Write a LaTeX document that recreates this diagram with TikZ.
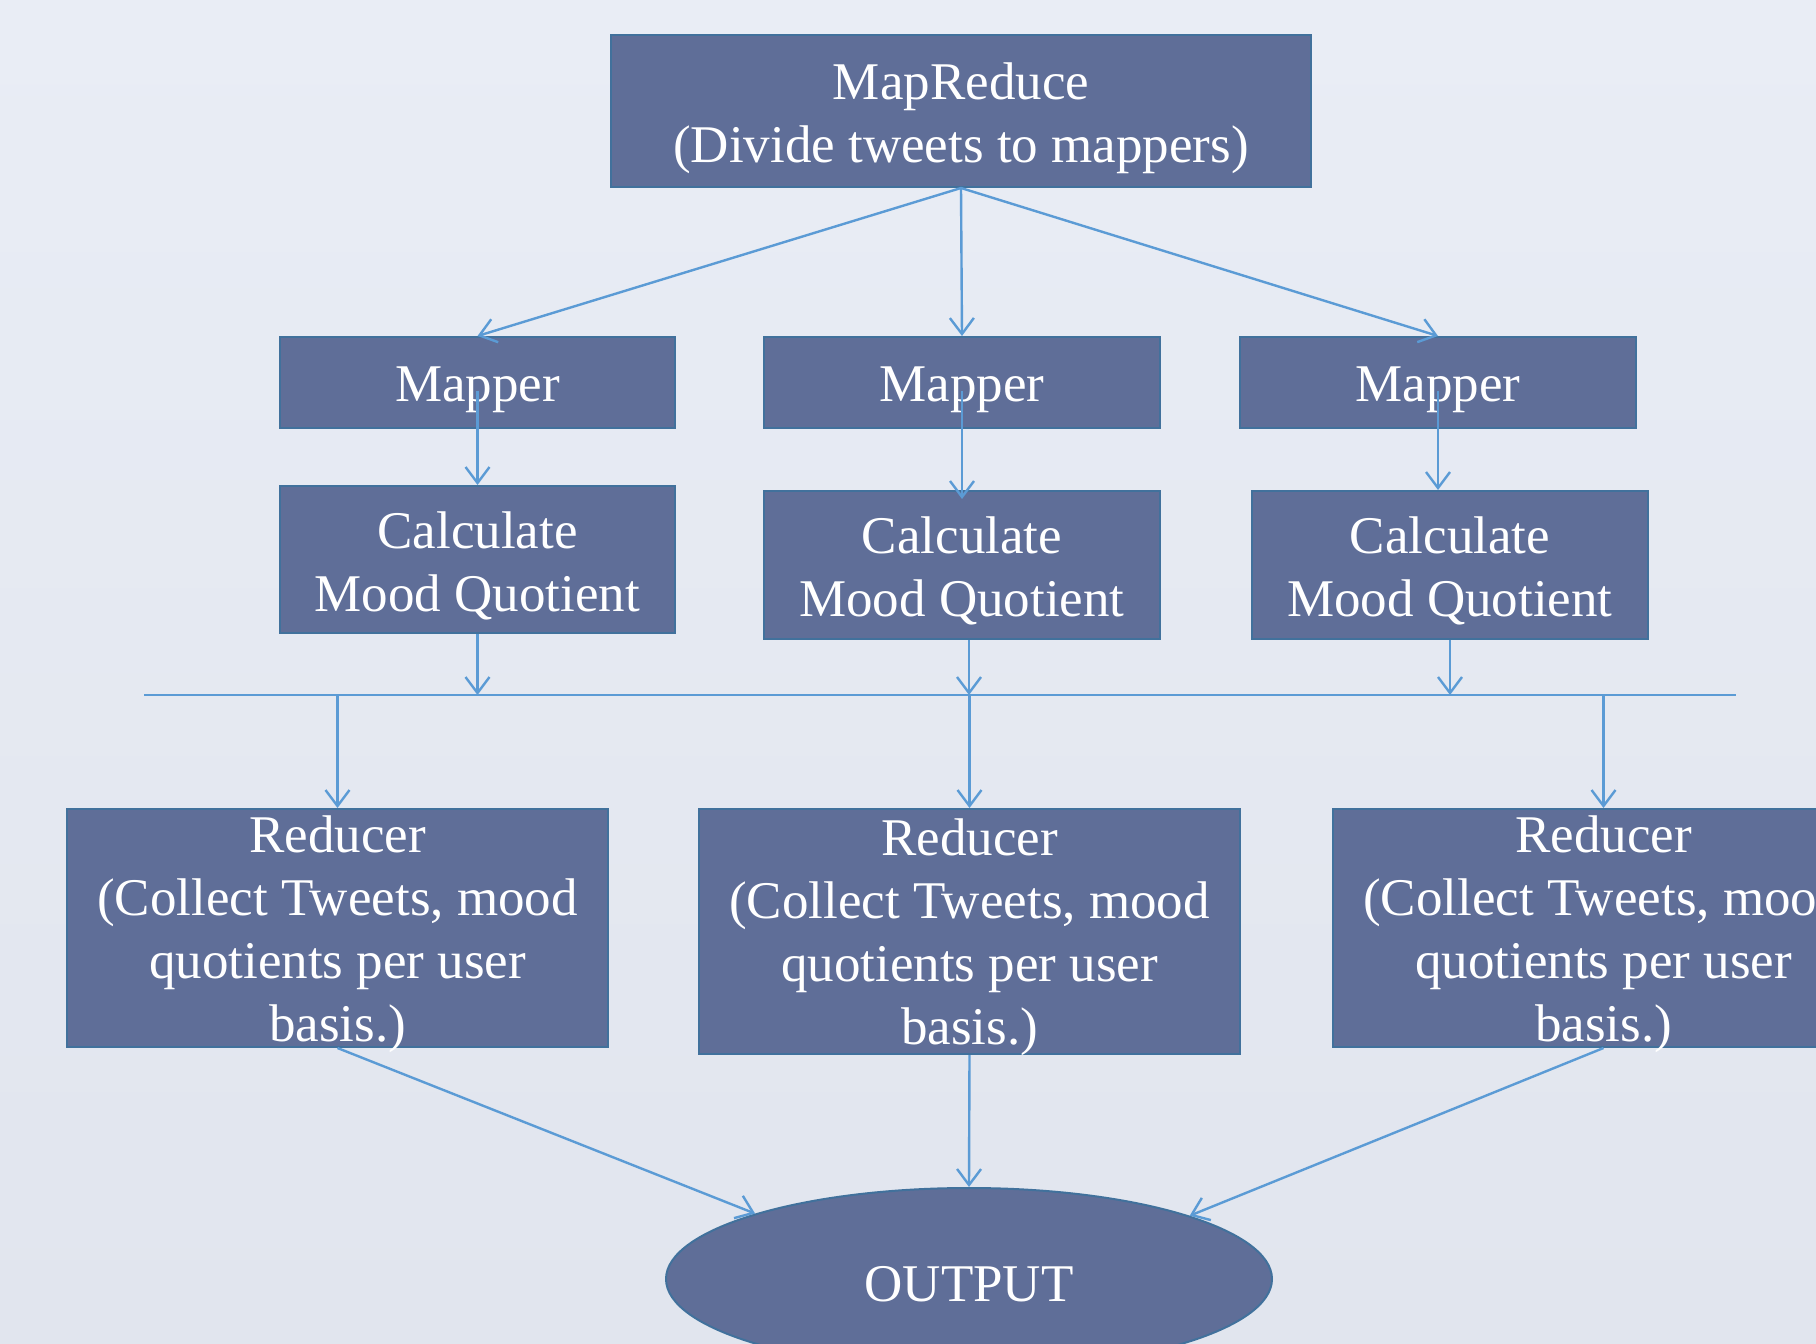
\documentclass[tikz,border=0pt]{standalone}
\usepackage{fontspec}
\setmainfont{Liberation Serif}
\usetikzlibrary{arrows.meta,shapes.geometric}
\definecolor{boxfill}{HTML}{5F6E98}
\definecolor{boxline}{HTML}{41719C}
\definecolor{arrowc}{HTML}{5B9BD5}
\definecolor{bgtop}{HTML}{E9EDF5}
\definecolor{bgbot}{HTML}{E1E5EE}
\begin{document}
\begin{tikzpicture}[x=1pt,y=-1pt,
  blk/.style={draw=boxline, line width=2pt, fill=boxfill, inner sep=0pt, anchor=north west},
  ovalbox/.style={ellipse, draw=boxline, line width=2pt, fill=boxfill, inner sep=0pt,
    minimum width=606pt, minimum height=182pt},
  txt/.style={text=white, inner sep=0pt, align=center, font=\fontsize{53}{63}\selectfont},
  conn/.style={draw=arrowc, line width=2.4pt, -{Straight Barb[length=16pt,width=24pt]}},
  barline/.style={draw=arrowc, line width=1.6pt}]
\useasboundingbox (0,0) rectangle (1816,1344);
\clip (0,0) rectangle (1816,1344);
\shade[top color=bgtop, bottom color=bgbot] (0,0) rectangle (1816,1344);

% boxes
\node[blk, minimum width=700pt, minimum height=152pt] (top) at (610,34) {};
\node[blk, minimum width=395pt, minimum height=91pt] (m1) at (279,336) {};
\node[blk, minimum width=396pt, minimum height=91pt] (m2) at (763,336) {};
\node[blk, minimum width=396pt, minimum height=91pt] (m3) at (1239,336) {};
\node[blk, minimum width=395pt, minimum height=147pt] (c1) at (279,485) {};
\node[blk, minimum width=396pt, minimum height=148pt] (c2) at (763,490) {};
\node[blk, minimum width=396pt, minimum height=148pt] (c3) at (1251,490) {};
\node[blk, minimum width=541pt, minimum height=238pt] (r1) at (66,808) {};
\node[blk, minimum width=541pt, minimum height=245pt] (r2) at (698,808) {};
\node[blk, minimum width=541pt, minimum height=238pt] (r3) at (1332,808) {};
\node[ovalbox] (out) at (969,1279) {};

% texts
\node[txt] (ttop) at ([yshift=-7pt]top.center) {MapReduce\\(Divide tweets to mappers)};
\node[txt] (tm1) at ([yshift=-7pt]m1.center) {Mapper};
\node[txt] (tm2) at ([yshift=-7pt]m2.center) {Mapper};
\node[txt] (tm3) at ([yshift=-7pt]m3.center) {Mapper};
\node[txt] (tc1) at ([yshift=-6pt]c1.center) {Calculate\\Mood Quotient};
\node[txt] (tc2) at ([yshift=-6pt]c2.center) {Calculate\\Mood Quotient};
\node[txt] (tc3) at ([yshift=-6pt]c3.center) {Calculate\\Mood Quotient};
\node[txt] (tr1) at ([yshift=-6pt]r1.center) {Reducer\\(Collect Tweets, mood\\quotients per user\\basis.)};
\node[txt] (tr2) at ([yshift=-6pt]r2.center) {Reducer\\(Collect Tweets, mood\\quotients per user\\basis.)};
\node[txt] (tr3) at ([yshift=-6pt]r3.center) {Reducer\\(Collect Tweets, mood\\quotients per user\\basis.)};
\node[txt] (tout) at ([yshift=-5pt]out.center) {OUTPUT};

% bar
\coordinate (barL) at (144,695);
\coordinate (barR) at (1736,695);
\draw[barline] (barL) -- (barR);

% connectors top -> mappers
\draw[conn] (top.south) -- (m1.north);
\draw[conn] (top.south) -- (m2.north);
\draw[conn] (top.south) -- (m3.north);
% mappers -> calculate
\draw[conn] ([yshift=-8pt]m1.center) -- (m1.center |- c1.north);
\draw[conn] ([yshift=-8pt]m2.center) -- ([yshift=-9pt]m2.center |- c2.north);
\draw[conn] ([yshift=-8pt]m3.center) -- (m3.center |- c3.north);
% calculate -> bar
\draw[conn] (c1.south) -- (c1.south |- barL);
\draw[conn] ([xshift=7pt]c2.south) -- ([xshift=7pt]c2.south |- barL);
\draw[conn] (c3.south) -- (c3.south |- barL);
% bar -> reducers
\draw[conn] (r1.north |- barL) -- (r1.north);
\draw[conn] (r2.north |- barL) -- (r2.north);
\draw[conn] (r3.north |- barL) -- (r3.north);
% reducers -> output
\draw[conn] (r1.south) -- (out.163.7);
\draw[conn] (r2.south) -- (out.north);
\draw[conn] (r3.south) -- (out.16.3);
\end{tikzpicture}
\end{document}
